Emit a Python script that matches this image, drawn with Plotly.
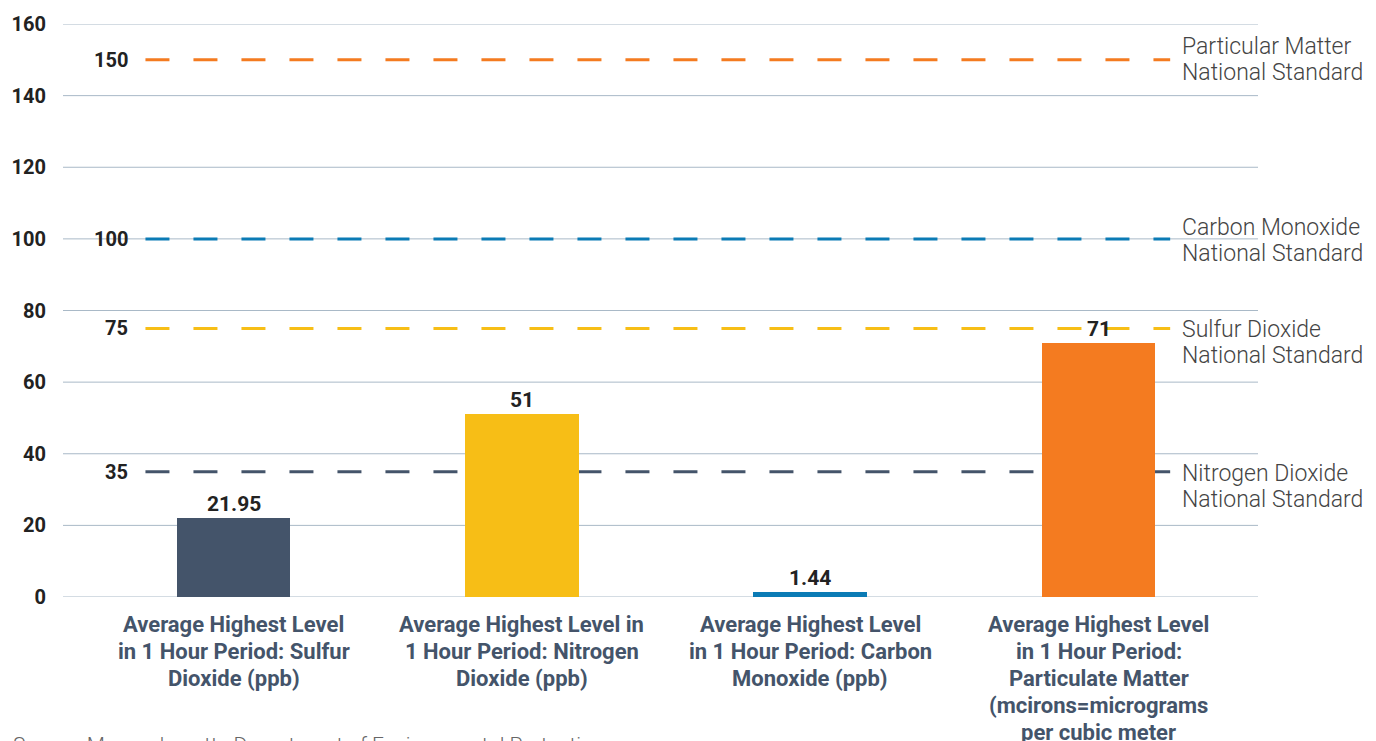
import plotly.graph_objects as go

# Measured pollutant levels (bars)
categories = [
    "Average Highest Level<br>in 1 Hour Period: Sulfur<br>Dioxide (ppb)",
    "Average Highest Level in<br>1 Hour Period: Nitrogen<br>Dioxide (ppb)",
    "Average Highest Level<br>in 1 Hour Period: Carbon<br>Monoxide (ppb)",
    "Average Highest Level<br>in 1 Hour Period:<br>Particulate Matter<br>(mcirons=micrograms<br>per cubic meter",
]
values = [21.95, 51, 1.44, 71]
bar_colors = ["#44546A", "#F7BE16", "#0B7BB5", "#F47B20"]

# National standards (dashed reference lines)
standard_values = [150, 100, 75, 35]
standard_names = [
    ["Particular Matter", "National Standard"],
    ["Carbon Monoxide", "National Standard"],
    ["Sulfur Dioxide", "National Standard"],
    ["Nitrogen Dioxide", "National Standard"],
]
standard_colors = ["#F47B20", "#0B7BB5", "#F7BE16", "#44546A"]
standard_label_shift = [0, -2, -14, -15]

y_ticks = [0, 20, 40, 60, 80, 100, 120, 140, 160]
source_text = "Source: Massachusetts Department of Environmental Protection"

FONT = "Roboto"
x_pos = list(range(len(values)))

fig = go.Figure()
fig.add_trace(go.Bar(
    x=x_pos,
    y=values,
    width=0.394,
    marker=dict(color=bar_colors, line=dict(width=0)),
    hoverinfo="skip",
))

annotations = []
shapes = []

# Horizontal gridlines, drawn first so the dashed standards sit on top
for t in y_ticks:
    shapes.append(dict(
        type="line", xref="paper", yref="y", x0=0, x1=1, y0=t, y1=t,
        line=dict(color="#A9B9C7", width=1), layer="below",
    ))

for val, names, col, shift in zip(standard_values, standard_names,
                                  standard_colors, standard_label_shift):
    shapes.append(dict(
        type="line", xref="paper", yref="y",
        x0=0.069, x1=0.9265, y0=val, y1=val,
        line=dict(color=col, width=3, dash="24px,24px"),
        layer="below",
    ))
    annotations.append(dict(
        xref="paper", yref="y", x=0.056, y=val,
        xanchor="right", yanchor="middle", showarrow=False,
        text=f"{val}",
        font=dict(family=FONT, size=20, color="#222222", weight="bold"),
    ))
    for i, line in enumerate(names):
        annotations.append(dict(
            xref="paper", yref="y", x=0.935, y=val,
            xanchor="left", yanchor="middle", showarrow=False,
            yshift=shift + 13 - 26 * i,
            text=line,
            font=dict(family=FONT, size=23, color="#444444", weight=300),
        ))

# Value labels above each bar
for xi, v in zip(x_pos, values):
    annotations.append(dict(
        xref="x", yref="y", x=xi, y=v,
        xanchor="center", yanchor="middle", showarrow=False,
        yshift=14,
        text=f"{v:g}",
        font=dict(family=FONT, size=21, color="#222222", weight="bold"),
    ))

# Category labels, one annotation per line for a 27px line pitch
for xi, cat in zip(x_pos, categories):
    for i, line in enumerate(cat.split("<br>")):
        annotations.append(dict(
            xref="x", yref="paper", x=xi, y=0,
            xanchor="center", yanchor="middle", showarrow=False,
            yshift=-27 - 27 * i,
            text=line,
            font=dict(family=FONT, size=22, color="#44546A", weight="bold"),
        ))

annotations.append(dict(
    xref="paper", yref="paper", x=-0.0434, y=0, yshift=-148,
    xanchor="left", yanchor="middle", showarrow=False,
    text=source_text,
    font=dict(family=FONT, size=21, color="#666666", weight=300),
))

fig.update_layout(
    width=1376, height=741,
    margin=dict(l=60, r=118, t=20, b=144),
    plot_bgcolor="white", paper_bgcolor="white",
    showlegend=False,
    bargap=0,
    xaxis=dict(
        range=[-0.592, 3.553], showticklabels=False, showgrid=False,
        zeroline=False, showline=False, fixedrange=True,
    ),
    yaxis=dict(
        range=[0, 160], tickvals=y_ticks, showgrid=False,
        zeroline=False, showline=False,
        ticks="", ticklabelstandoff=16,
        tickfont=dict(family=FONT, size=20, color="#222222", weight="bold"),
    ),
    shapes=shapes,
    annotations=annotations,
)

fig.write_html("out.html")
